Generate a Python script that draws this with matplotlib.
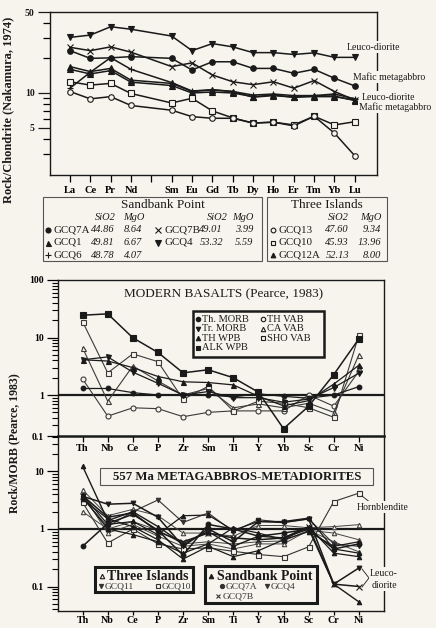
import matplotlib
matplotlib.use("Agg")
import matplotlib.pyplot as plt
from matplotlib.patches import Rectangle
from matplotlib.ticker import NullFormatter

W, H = 436, 628
BG = '#f6f4ec'
INK = '#1a1a1a'
plt.rcParams['font.family'] = ['Liberation Serif', 'DejaVu Serif']

# ---------------- REE (chondrite-normalised) ----------------
ree_names = ['La', 'Ce', 'Pr', 'Nd', 'Pm', 'Sm', 'Eu', 'Gd', 'Tb', 'Dy', 'Ho', 'Er', 'Tm', 'Yb', 'Lu']
ree_labels = ['La', 'Ce', 'Pr', 'Nd', '', 'Sm', 'Eu', 'Gd', 'Tb', 'Dy', 'Ho', 'Er', 'Tm', 'Yb', 'Lu']
ree_measured = [e for e in ree_names if e != 'Pm']

gcq4 = [30.2, 31.6, 37.3, 35.5, 31.0, 23.2, 26.7, 25.0, 22.3, 22.3, 21.5, 22.2, 20.3, 20.3]
gcq7a = [23.2, 19.9, 20.1, 20.6, 19.9, 15.8, 18.6, 18.6, 16.3, 16.3, 14.8, 16.0, 13.4, 11.5]
gcq7b = [24.8, 23.2, 25.0, 22.5, 16.9, 18.2, 14.3, 12.5, 11.8, 12.5, 11.0, 12.8, 10.3, 8.7]
gcq1 = [16.9, 15.3, 16.3, 12.9, 12.1, 10.3, 10.6, 10.3, 9.2, 9.5, 9.2, 9.3, 9.3, 8.7]
gcq6 = [11.0, 15.1, 20.2, 16.0, 12.3, 10.4, 10.7, 10.3, 9.6, 9.8, 9.5, 9.5, 9.8, 8.9]
gcq12a = [16.0, 14.6, 15.6, 12.4, 11.6, 10.0, 10.2, 10.0, 9.3, 9.6, 9.2, 9.5, 9.4, 8.6]
gcq13 = [10.3, 8.9, 9.3, 7.8, 7.1, 6.25, 6.05, 6.05, 5.5, 5.6, 5.2, 6.3, 4.5, 2.87]
gcq10 = [12.5, 11.7, 12.1, 9.9, 8.2, 9.0, 7.0, 6.1, 5.5, 5.6, 5.3, 6.3, 5.3, 5.65]

# ---------------- MORB-normalised spider data ----------------
spider_names = ['Th', 'Nb', 'Ce', 'P', 'Zr', 'Sm', 'Ti', 'Y', 'Yb', 'Sc', 'Cr', 'Ni']

th_morb = [1.3, 1.3, 1.1, 1.0, 1.0, 1.0, 0.93, 1.05, 0.95, 0.88, 1.0, 1.4]
tr_morb = [4.1, 4.6, 2.5, 1.6, 1.0, 1.15, 0.9, 0.9, 0.75, 0.85, 1.35, 2.4]
th_wpb = [4.1, 3.9, 3.0, 2.1, 1.7, 1.65, 1.5, 0.95, 0.65, 0.8, 1.55, 3.3]
alk_wpb = [24.4, 25.8, 9.9, 5.5, 2.43, 2.75, 2.0, 1.12, 0.26, 0.64, 2.27, 9.5]
th_vab = [1.9, 0.43, 0.6, 0.58, 0.42, 0.5, 0.53, 0.53, 0.53, 1.0, 0.64, 2.6]
ca_vab = [6.6, 0.78, 3.2, 1.75, 1.0, 1.3, 0.6, 0.7, 0.6, 0.72, 0.5, 5.0]
sho_vab = [18.8, 2.43, 5.2, 3.8, 0.84, 1.42, 0.53, 0.78, 0.72, 0.60, 0.41, 11.0]

# 557 Ma metagabbros / metadiorites
ti_gcq10 = [2.9, 0.57, 1.0, 0.55, 0.45, 0.47, 0.41, 0.36, 0.33, 0.49, 3.0, 4.2]
ti_gcq11 = [3.4, 1.1, 2.0, 3.2, 1.3, 1.9, 0.9, 1.45, 1.3, 1.5, 0.55, 0.5]
ti_a = [4.8, 1.7, 2.2, 1.7, 0.85, 0.85, 0.75, 1.15, 1.15, 1.05, 1.1, 1.19]
ti_b = [2.0, 1.0, 1.35, 0.95, 0.55, 0.6, 0.55, 0.6, 0.62, 0.95, 0.85, 0.65]
ti_c = [4.0, 0.85, 1.2, 0.75, 0.5, 0.55, 0.45, 0.55, 0.55, 0.95, 0.6, 0.4]
sp_gcq7a = [0.5, 1.25, 1.8, 0.95, 0.35, 1.2, 1.0, 0.75, 0.85, 1.0, 0.45, 0.55]
sp_gcq4 = [3.7, 2.7, 2.8, 1.6, 0.5, 1.0, 0.6, 1.35, 1.3, 1.5, 0.11, 0.21]
sp_gcq7b = [3.8, 1.6, 1.9, 0.9, 0.6, 0.85, 0.7, 0.65, 0.7, 1.1, 0.11, 0.1]
sp_a = [12.3, 1.4, 2.0, 1.1, 0.55, 0.9, 0.5, 0.75, 0.7, 1.0, 0.11, 0.054]
sp_b = [3.9, 1.2, 1.35, 0.8, 1.7, 1.75, 0.95, 1.35, 1.35, 1.55, 0.45, 0.38]
sp_c = [3.6, 1.0, 0.8, 0.6, 0.38, 0.55, 1.05, 0.85, 0.65, 1.1, 0.38, 0.33]
sp_d = [3.3, 1.5, 1.1, 0.65, 0.3, 0.5, 0.33, 0.42, 0.65, 0.9, 0.5, 0.6]

fig = plt.figure(figsize=(W / 100, H / 100), dpi=100, facecolor=BG)


def px_axes(l, t, r, b):
    ax = fig.add_axes([l / W, 1 - b / H, (r - l) / W, (b - t) / H])
    ax.patch.set_visible(False)
    for s in ax.spines.values():
        s.set_color(INK)
        s.set_linewidth(1.0)
    return ax


def series(ax, x, y, marker, filled=True, ms=3.8, lw=1.1, color=INK):
    ax.plot(x, y, color=color, lw=lw, marker=marker, ms=ms,
            mfc=color if filled else BG, mec=color, mew=0.8, clip_on=False)


# ---------------- top panel: REE ----------------
ax1 = px_axes(50, 12, 377, 175)
ax1.set_yscale('log')
ax1.set_ylim(1.96, 50)
ax1.set_xlim(-0.98, 15.09)
xr = [ree_names.index(e) for e in ree_measured]
series(ax1, xr, gcq4, 'v', ms=4.2)
series(ax1, xr, gcq7a, 'o', ms=4.0)
series(ax1, xr, gcq7b, 'x', ms=4.6)
series(ax1, xr, gcq1, '^', ms=4.0)
series(ax1, xr, gcq12a, '^', ms=4.0)
series(ax1, xr, gcq6, '+', ms=4.6)
series(ax1, xr, gcq10, 's', filled=False, ms=3.8)
series(ax1, xr, gcq13, 'o', filled=False, ms=4.0)
ax1.set_xticks(range(len(ree_names)), labels=ree_labels, fontweight='bold', fontsize=7.5)
ax1.set_yticks([5, 10, 50], labels=['5', '10', '50'], fontweight='bold', fontsize=7)
ax1.set_yticks([3, 4, 6, 7, 8, 9, 20, 30, 40], minor=True)
ax1.yaxis.set_minor_formatter(NullFormatter())
ax1.tick_params(axis='y', which='major', direction='out', length=9, width=0.9, pad=2, colors=INK)
ax1.tick_params(axis='y', which='minor', direction='out', length=5, width=0.9)
ax1.tick_params(axis='x', which='major', direction='out', length=5, width=0.9, pad=3)
ax1.tick_params(axis='x', which='minor', bottom=False)

# ---------------- middle panel: modern basalts ----------------
ax2 = px_axes(58, 280, 384, 436)
ax2.set_yscale('log')
ax2.set_ylim(0.194, 100)
ax2.set_xlim(-0.98, 12.0)
xs = list(range(len(spider_names)))
ax2.axhline(1, color=INK, lw=1.6)
series(ax2, xs, th_vab, 'o', filled=False, ms=3.6, lw=0.8, color='#3a3a3a')
series(ax2, xs, ca_vab, '^', filled=False, ms=3.6, lw=0.8, color='#3a3a3a')
series(ax2, xs, sho_vab, 's', filled=False, ms=3.6, lw=0.8, color='#3a3a3a')
series(ax2, xs, th_morb, 'o', ms=3.4, lw=0.9)
series(ax2, xs, tr_morb, 'v', ms=3.6, lw=0.9)
series(ax2, xs, th_wpb, '^', ms=3.6, lw=0.9)
series(ax2, xs, alk_wpb, 's', ms=3.8, lw=1.1)
ax2.spines['bottom'].set_linewidth(1.8)
ax2.set_xticks(xs, labels=spider_names, fontweight='bold', fontsize=7.5)
ax2.set_yticks([0.194, 1, 10, 100], labels=['0.1', '1', '10', '100'], fontweight='bold', fontsize=7)
ax2.set_yticks([0.3, 0.4, 0.5, 0.6, 0.7, 0.8, 0.9, 2, 3, 4, 5, 6, 7, 8, 9,
                20, 30, 40, 50, 60, 70, 80, 90], minor=True)
ax2.yaxis.set_minor_formatter(NullFormatter())
ax2.tick_params(axis='y', which='major', direction='out', length=8, width=0.9, pad=2)
ax2.tick_params(axis='y', which='minor', direction='out', length=4, width=0.8)
ax2.tick_params(axis='x', which='major', direction='out', length=4, width=0.9, pad=2)
ax2.tick_params(axis='x', which='minor', bottom=False)

# ---------------- bottom panel: 557 Ma rocks ----------------
ax3 = px_axes(58, 436, 384, 611)
ax3.set_yscale('log')
ax3.set_ylim(0.0375, 41.4)
ax3.set_xlim(-0.98, 12.0)
ax3.spines['top'].set_visible(False)
ax3.axhline(1, color=INK, lw=1.6)
grey = '#444444'
series(ax3, xs, ti_b, '^', filled=False, ms=3.2, lw=0.7, color=grey)
series(ax3, xs, ti_c, '^', filled=False, ms=3.2, lw=0.7, color=grey)
series(ax3, xs, ti_a, '^', filled=False, ms=3.2, lw=0.7, color=grey)
series(ax3, xs, ti_gcq11, 'v', ms=3.2, lw=0.8, color='#333333')
series(ax3, xs, ti_gcq10, 's', filled=False, ms=3.6, lw=0.8, color='#333333')
series(ax3, xs, sp_c, '^', ms=3.2, lw=0.9)
series(ax3, xs, sp_d, '^', ms=3.2, lw=0.9)
series(ax3, xs, sp_b, '^', ms=3.2, lw=0.9)
series(ax3, xs, sp_a, '^', ms=3.2, lw=1.0)
series(ax3, xs, sp_gcq7a, 'o', ms=3.4, lw=1.1)
series(ax3, xs, sp_gcq4, 'v', ms=3.4, lw=1.1)
series(ax3, xs, sp_gcq7b, 'x', ms=4.0, lw=1.1)
ax3.set_xticks(xs, labels=spider_names, fontweight='bold', fontsize=7.2)
ax3.set_yticks([0.1, 1, 10], labels=['0.1', '1', '10'], fontweight='bold', fontsize=7)
ax3.set_yticks([0.04, 0.05, 0.06, 0.07, 0.08, 0.09, 0.2, 0.3, 0.4, 0.5, 0.6, 0.7, 0.8, 0.9,
                2, 3, 4, 5, 6, 7, 8, 9, 20, 30, 40], minor=True)
ax3.yaxis.set_minor_formatter(NullFormatter())
ax3.tick_params(axis='y', which='major', direction='out', length=8, width=0.9, pad=2)
ax3.tick_params(axis='y', which='minor', direction='out', length=4, width=0.8)
ax3.tick_params(axis='x', which='major', direction='out', length=3, width=0.9, pad=0.6)
ax3.tick_params(axis='x', which='minor', bottom=False)

# ---------------- annotation layer in pixel units ----------------
ov = fig.add_axes([0, 0, 1, 1])
ov.set_xlim(0, W)
ov.set_ylim(H, 0)
ov.axis('off')
ov.set_zorder(10)


def txt(x, y, s, size=7.5, ha='left', va='center', **kw):
    ov.text(x, y, s, fontsize=size, ha=ha, va=va, color=kw.pop('color', INK), **kw)


def mark(x, y, m, filled=True, ms=3.4, color=INK):
    ov.plot([x], [y], marker=m, ms=ms, mfc=color if filled else BG, mec=color,
            mew=0.8, ls='none', clip_on=False)


def box(l, t, r, b, lw=0.9, ec=INK):
    ov.add_patch(Rectangle((l, t), r - l, b - t, fill=True, fc=BG, ec=ec, lw=lw))


cut = dict(boxstyle='square,pad=0.15', fc=BG, ec='none')

# axis titles
txt(8, 110, 'Rock/Chondrite (Nakamura, 1974)', size=9, ha='center', rotation=90, fontweight='bold')
txt(14, 443, 'Rock/MORB (Pearce, 1983)', size=8.5, ha='center', rotation=90, fontweight='bold')

# REE rock-type labels straddling the right frame
txt(347, 47, 'Leuco-diorite', size=7, bbox=cut)
txt(353, 77, 'Mafic metagabbro', size=7, bbox=cut)
txt(362, 97, 'Leuco-diorite', size=7, bbox=cut)
txt(359, 107, 'Mafic metagabbro', size=7, bbox=cut)

# REE key: Sandbank Point
box(43, 197, 262, 261, lw=0.8, ec='#555555')
txt(163, 205, 'Sandbank Point', size=9.5, ha='center')
for xh, s in [(105, 'SiO2'), (134, 'MgO'), (217, 'SiO2'), (243, 'MgO')]:
    txt(xh, 217, s, size=7.5, ha='center', style='italic')
rows_a = [('o', 'GCQ7A', '44.86', '8.64'), ('^', 'GCQ1', '49.81', '6.67'), ('+', 'GCQ6', '48.78', '4.07')]
for i, (m, n, si, mg) in enumerate(rows_a):
    y = 230 + i * 12.5
    mark(48, y, m, ms=3.6 if m != '+' else 4.2)
    txt(53, y, n, size=7.8)
    txt(115, y, si, size=7.5, ha='right', style='italic')
    txt(142, y, mg, size=7.5, ha='right', style='italic')
rows_b = [('x', 'GCQ7B', '49.01', '3.99'), ('v', 'GCQ4', '53.32', '5.59')]
for i, (m, n, si, mg) in enumerate(rows_b):
    y = 230 + i * 12.5
    mark(158, y, m, ms=3.8)
    txt(164, y, n, size=7.8)
    txt(223, y, si, size=7.5, ha='right', style='italic')
    txt(253, y, mg, size=7.5, ha='right', style='italic')

# REE key: Three Islands
box(267, 197, 387, 261, lw=0.8, ec='#555555')
txt(327, 205, 'Three Islands', size=9.5, ha='center')
txt(338, 217, 'SiO2', size=7.5, ha='center', style='italic')
txt(371, 217, 'MgO', size=7.5, ha='center', style='italic')
rows_c = [('o', False, 'GCQ13', '47.60', '9.34'), ('s', False, 'GCQ10', '45.93', '13.96'),
          ('^', True, 'GCQ12A', '52.13', '8.00')]
for i, (m, f, n, si, mg) in enumerate(rows_c):
    y = 230 + i * 12.5
    mark(273, y, m, filled=f, ms=3.4)
    txt(278, y, n, size=7.8)
    txt(349, y, si, size=7.5, ha='right', style='italic')
    txt(381, y, mg, size=7.5, ha='right', style='italic')

# modern basalts title and key
txt(224, 294, 'MODERN BASALTS (Pearce, 1983)', size=9.5, ha='center')
box(193, 311, 324, 357, lw=1.8)
key_l = [('o', True, 'Th. MORB'), ('v', True, 'Tr. MORB'), ('^', True, 'TH WPB'), ('s', True, 'ALK WPB')]
for i, (m, f, s) in enumerate(key_l):
    y = 319 + i * 9.6
    mark(198, y, m, filled=f, ms=3.2)
    txt(202, y, s, size=7.5)
key_r = [('o', False, 'TH VAB'), ('^', False, 'CA VAB'), ('s', False, 'SHO VAB')]
for i, (m, f, s) in enumerate(key_r):
    y = 319 + i * 9.6
    mark(263, y, m, filled=f, ms=3.2)
    txt(267, y, s, size=7.5)

# 557 Ma title
box(100, 468, 373, 485, lw=0.8, ec='#555555')
txt(237, 476.5, '557 Ma METAGABBROS-METADIORITES', size=9.2, ha='center', fontweight='bold')

# group keys
box(95, 567, 193, 592, lw=2.2)
mark(102, 576, '^', filled=False, ms=3.2)
txt(107, 576, 'Three Islands', size=10, fontweight='bold')
mark(101, 586, 'v', ms=3.0, color='#333333')
txt(105, 586, 'GCQ11', size=6.8, color='#333333')
mark(158, 586, 's', filled=False, ms=3.0, color='#333333')
txt(162, 586, 'GCQ10', size=6.8, color='#333333')

box(205, 566, 317, 603, lw=2.2)
mark(211, 576, '^', ms=3.2)
txt(217, 576, 'Sandbank Point', size=10, fontweight='bold')
mark(222, 586, 'o', ms=3.0, color='#333333')
txt(226, 586, 'GCQ7A', size=6.8, color='#333333')
mark(267, 586, 'v', ms=3.0, color='#333333')
txt(271, 586, 'GCQ4', size=6.8, color='#333333')
mark(218, 596, 'x', ms=3.4, color='#333333')
txt(223, 596, 'GCQ7B', size=6.8, color='#333333')

# rock-type callouts on the right
ov.plot([362, 371], [496, 503], color=INK, lw=0.6)
txt(357, 507, 'Hornblendite', size=7, bbox=cut)
ov.plot([362, 369, 362], [569, 578, 587], color=INK, lw=0.6)
txt(384, 573, 'Leuco-', size=7, ha='center', bbox=cut)
txt(384, 585, 'diorite', size=7, ha='center', bbox=cut)

fig.savefig('out.png', dpi=100, facecolor=BG)
